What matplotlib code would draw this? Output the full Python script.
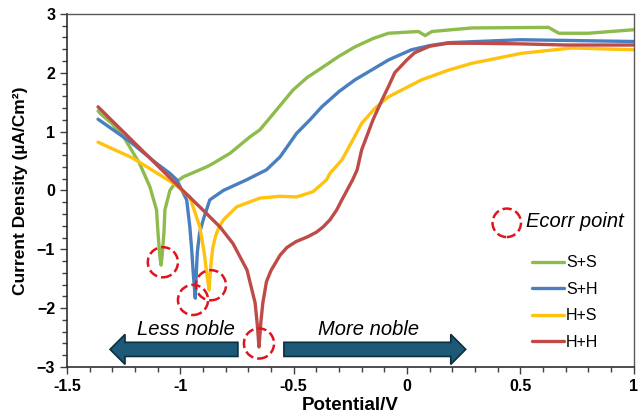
import numpy as np
import matplotlib
matplotlib.use("Agg")
import matplotlib.pyplot as plt
from matplotlib.patches import FancyArrow

plt.rcParams['font.family'] = ['Liberation Sans', 'DejaVu Sans']

# S+S
ss_x = [-1.363, -1.354, -1.30, -1.25, -1.18, -1.134, -1.105, -1.098, -1.09, -1.085, -1.08, -1.072, -1.068,
        -1.046, -1.02, -0.987, -0.884, -0.855, -0.781, -0.737, -0.693, -0.649, -0.612, -0.502, -0.44,
        -0.377, -0.30, -0.229, -0.15, -0.082, 0.05, 0.08, 0.11, 0.286, 0.624, 0.67, 0.80, 1.0]
ss_y = [1.35, 1.31, 1.13, 0.91, 0.46, 0.06, -0.33, -0.75, -1.12, -1.27, -1.10, -0.70, -0.33,
        0.0, 0.14, 0.23, 0.40, 0.46, 0.63, 0.77, 0.91, 1.03, 1.20, 1.71, 1.92,
        2.08, 2.28, 2.44, 2.58, 2.67, 2.70, 2.63, 2.70, 2.76, 2.77, 2.67, 2.67, 2.73]

# S+H
sh_x = [-1.363, -1.222, -1.105, -1.046, -1.016, -0.972, -0.958, -0.95, -0.943, -0.938, -0.934, -0.93,
        -0.925, -0.915, -0.899, -0.87, -0.81, -0.708, -0.62, -0.56, -0.487, -0.428, -0.376, -0.30,
        -0.229, -0.15, -0.08, 0.02, 0.10, 0.184, 0.5, 1.0]
sh_y = [1.21, 0.83, 0.46, 0.29, 0.18, -0.16, -0.62, -1.00, -1.40, -1.65, -1.83, -1.45,
        -1.05, -0.72, -0.50, -0.16, 0.0, 0.18, 0.35, 0.57, 0.97, 1.20, 1.42, 1.68,
        1.88, 2.06, 2.22, 2.39, 2.46, 2.51, 2.56, 2.53]

# H+S
hs_x = [-1.363, -1.21, -1.03, -0.958, -0.914, -0.895, -0.882, -0.873, -0.866, -0.857, -0.845, -0.83,
        -0.81, -0.752, -0.649, -0.56, -0.487, -0.414, -0.355, -0.34, -0.287, -0.24, -0.2, -0.14,
        -0.082, 0.065, 0.18, 0.286, 0.506, 0.727, 1.0]
hs_y = [0.82, 0.55, 0.12, -0.11, -0.62, -1.05, -1.45, -1.69, -1.30, -0.98, -0.78, -0.63,
        -0.50, -0.28, -0.13, -0.10, -0.11, -0.02, 0.18, 0.29, 0.52, 0.85, 1.14, 1.40,
        1.59, 1.88, 2.04, 2.16, 2.33, 2.42, 2.39]

# H+H
hh_x = [-1.363, -1.2, -1.0, -0.914, -0.825, -0.768, -0.706, -0.67, -0.66, -0.653, -0.645, -0.636,
        -0.62, -0.60, -0.56, -0.53, -0.49, -0.44, -0.40, -0.37, -0.34, -0.31, -0.29, -0.265, -0.24,
        -0.22, -0.2, -0.15, -0.11, -0.08, -0.054, 0.0, 0.034, 0.1, 0.18, 0.3, 0.5, 0.7, 1.0]
hh_y = [1.42, 0.80, 0.04, -0.28, -0.62, -0.90, -1.35, -1.91, -2.30, -2.66, -2.25, -1.91,
        -1.55, -1.36, -1.10, -0.97, -0.87, -0.79, -0.71, -0.62, -0.50, -0.33, -0.18, 0.0, 0.18,
        0.35, 0.69, 1.20, 1.54, 1.78, 2.00, 2.22, 2.34, 2.45, 2.50, 2.50, 2.49, 2.47, 2.47]

labels = ['S+S', 'S+H', 'H+S', 'H+H']
colors = ['#8DBB4C', '#4A7FBF', '#FFC20E', '#BE4B48']

# Ecorr circles
ecorr_x = [-1.077, -0.944, -0.865, -0.653]
ecorr_y = [-1.22, -1.86, -1.61, -2.60]

fig = plt.figure(figsize=(6.44, 4.19), dpi=100)
ax = fig.add_axes([0.104, 0.124, 0.880, 0.843])

for xs, ys, lab, c in zip([ss_x, sh_x, hs_x, hh_x], [ss_y, sh_y, hs_y, hh_y], labels, colors):
    ax.plot(xs, ys, color=c, lw=2.4, label=lab, solid_joinstyle='round', solid_capstyle='round')

ax.scatter(ecorr_x, ecorr_y, s=470, facecolors='none', edgecolors='#E0141E',
           linestyles='--', linewidths=1.8, zorder=5)
ax.scatter([0.44], [-0.55], s=420, facecolors='none', edgecolors='#E0141E',
           linestyles='--', linewidths=1.8, zorder=5, clip_on=False)
ax.text(0.525, -0.53, 'Ecorr point', fontsize=14.5, style='italic', va='center', ha='left')

# arrows
arrow_kw = dict(width=0.24, head_width=0.51, head_length=0.066, length_includes_head=True,
                facecolor='#1C5A78', edgecolor='#0E2E3E', lw=1.2, zorder=4)
ax.add_patch(FancyArrow(-0.746, -2.70, -0.564, 0, **arrow_kw))
ax.add_patch(FancyArrow(-0.543, -2.70, 0.802, 0, **arrow_kw))
ax.text(-0.977, -2.36, 'Less noble', fontsize=14.5, style='italic', ha='center', va='center')
ax.text(-0.168, -2.36, 'More noble', fontsize=14.5, style='italic', ha='center', va='center')

ax.set_xlim(-1.5, 1)
ax.set_ylim(-3, 3)
ax.set_xticks([-1.5, -1, -0.5, 0, 0.5, 1])
ax.set_xticklabels(['-1.5', '-1', '-0.5', '0', '0.5', '1'])
ax.set_yticks([-3, -2, -1, 0, 1, 2, 3])
ax.set_xticks(np.arange(-1.5, 1.01, 0.1), minor=True)
ax.set_yticks(np.arange(-3, 3.01, 0.2), minor=True)
ax.tick_params(which='both', direction='out', labelsize=11.5, color='#404040', width=1)
ax.tick_params(which='major', length=5)
ax.tick_params(which='minor', length=3.5)
for t in ax.get_xticklabels() + ax.get_yticklabels():
    t.set_fontweight('bold')

for s in ['left', 'bottom']:
    ax.spines[s].set_color('#303030')
    ax.spines[s].set_linewidth(1.2)
for s in ['top', 'right']:
    ax.spines[s].set_color('#595959')
    ax.spines[s].set_linewidth(1.0)

ax.set_xlabel('Potential/V', fontsize=13.5, fontweight='bold', labelpad=2)
ax.set_ylabel('Current Density (µA/Cm²)', fontsize=12.5, fontweight='bold', labelpad=6)

ax.legend(loc='upper left', bbox_to_anchor=(0.81, 0.335), frameon=False, fontsize=11.5,
          handlelength=2.0, handletextpad=0.1, labelspacing=0.72, borderaxespad=0)

fig.savefig('out.png', dpi=100)
